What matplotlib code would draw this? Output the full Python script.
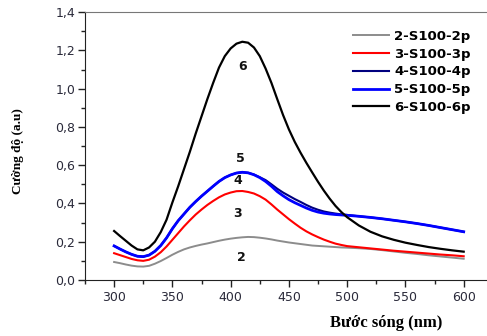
import matplotlib
matplotlib.use("Agg")
import matplotlib.pyplot as plt
from matplotlib.ticker import MultipleLocator, FuncFormatter

# wavelength (nm): 5 nm steps up to 500, then 10 nm steps
wavelength = list(range(300, 500, 5)) + list(range(500, 601, 10))

# absorbance
s2 = [0.094, 0.088, 0.081, 0.075, 0.071, 0.070, 0.074, 0.085, 0.099, 0.115,
      0.132, 0.147, 0.160, 0.170, 0.178, 0.185, 0.191, 0.198, 0.205, 0.211,
      0.216, 0.220, 0.223, 0.225, 0.224, 0.221, 0.217, 0.212, 0.206, 0.201,
      0.196, 0.192, 0.188, 0.184, 0.180, 0.178, 0.176, 0.174, 0.172, 0.170,
      0.169,
      0.166, 0.162, 0.156, 0.149, 0.142, 0.136, 0.129, 0.123, 0.117, 0.111]
s3 = [0.140, 0.130, 0.120, 0.110, 0.103, 0.100, 0.106, 0.122, 0.145, 0.175,
      0.210, 0.245, 0.280, 0.312, 0.342, 0.368, 0.392, 0.413, 0.432, 0.447,
      0.457, 0.464, 0.465, 0.460, 0.452, 0.438, 0.420, 0.395, 0.368, 0.343,
      0.318, 0.295, 0.273, 0.254, 0.238, 0.224, 0.211, 0.200, 0.190, 0.183,
      0.177,
      0.171, 0.165, 0.159, 0.153, 0.148, 0.143, 0.138, 0.133, 0.129, 0.124]
s4 = [0.178, 0.162, 0.147, 0.134, 0.124, 0.122, 0.130, 0.150, 0.180, 0.220,
      0.268, 0.310, 0.345, 0.380, 0.410, 0.438, 0.464, 0.490, 0.515, 0.535,
      0.549, 0.559, 0.563, 0.560, 0.551, 0.537, 0.522, 0.500, 0.477, 0.457,
      0.440, 0.423, 0.408, 0.392, 0.378, 0.367, 0.358, 0.352, 0.347, 0.343,
      0.340,
      0.333, 0.327, 0.320, 0.312, 0.304, 0.295, 0.285, 0.274, 0.263, 0.252]
s5 = [0.178, 0.162, 0.147, 0.134, 0.124, 0.122, 0.130, 0.150, 0.180, 0.220,
      0.268, 0.310, 0.345, 0.380, 0.410, 0.438, 0.464, 0.490, 0.515, 0.535,
      0.549, 0.559, 0.563, 0.560, 0.550, 0.535, 0.515, 0.490, 0.462, 0.440,
      0.420, 0.404, 0.390, 0.376, 0.364, 0.355, 0.349, 0.345, 0.342, 0.340,
      0.338,
      0.333, 0.327, 0.320, 0.312, 0.304, 0.295, 0.285, 0.274, 0.263, 0.252]
s6 = [0.256, 0.230, 0.205, 0.180, 0.160, 0.155, 0.170, 0.200, 0.250, 0.315,
      0.405, 0.490, 0.580, 0.670, 0.765, 0.855, 0.945, 1.030, 1.110, 1.170,
      1.210, 1.235, 1.245, 1.240, 1.215, 1.170, 1.105, 1.030, 0.945, 0.862,
      0.787, 0.722, 0.665, 0.612, 0.562, 0.513, 0.467, 0.425, 0.387, 0.355,
      0.328,
      0.285, 0.252, 0.228, 0.210, 0.195, 0.183, 0.172, 0.163, 0.155, 0.148]

series = [s2, s3, s4, s5, s6]
names = ["2-S100-2p", "3-S100-3p", "4-S100-4p", "5-S100-5p", "6-S100-6p"]
colors = ["#8c8c8c", "#ff0000", "#00007f", "#0000ff", "#000000"]
widths = [1.4, 1.5, 1.5, 2.0, 1.6]

# curve number labels next to the peaks
label_text = ["6", "5", "4", "3", "2"]
label_x = [410, 408, 406, 406, 409]
label_y = [1.115, 0.635, 0.52, 0.35, 0.115]

fig = plt.figure(figsize=(4.87, 3.36), dpi=100)
ax = fig.add_axes([0.1745, 0.1667, 0.8255, 0.7973])

for ys, name, c, lw in zip(series, names, colors, widths):
    ax.plot(wavelength, ys, color=c, lw=lw, label=name, solid_joinstyle="round")

for t, x, y in zip(label_text, label_x, label_y):
    ax.text(x, y, t, ha="center", va="center", fontsize=9, fontweight="bold", color="#111111")

ax.set_xlim(275, 620)
ax.set_ylim(0, 1.4)
ax.xaxis.set_major_locator(MultipleLocator(50))
ax.xaxis.set_minor_locator(MultipleLocator(25))
ax.yaxis.set_major_locator(MultipleLocator(0.2))
ax.yaxis.set_minor_locator(MultipleLocator(0.1))
ax.yaxis.set_major_formatter(FuncFormatter(lambda v, p: f"{v:.1f}".replace(".", ",")))

ax.tick_params(which="both", direction="out", top=False, right=False, colors="#222222",
               labelcolor="#2a2a3a", labelsize=9)
ax.tick_params(which="major", length=5, width=1)
ax.tick_params(which="minor", length=3, width=1)
ax.tick_params(axis="y", pad=2)
ax.tick_params(axis="x", pad=3)

ax.spines["right"].set_visible(False)
ax.spines["top"].set_color("#777777")
for s in ["left", "bottom"]:
    ax.spines[s].set_color("#222222")

leg = ax.legend(loc="upper left", bbox_to_anchor=(0.725, 0.911), bbox_transform=fig.transFigure,
                frameon=False, borderpad=0, borderaxespad=0, handlelength=2.7,
                handletextpad=0.4, labelspacing=0.36,
                prop={"family": "DejaVu Sans", "weight": "bold", "size": 9.5})

fig.text(0.793, 0.039, "Bước sóng (nm)", ha="center", va="center",
         family="Liberation Serif", fontweight="bold", fontsize=12)
fig.text(0.037, 0.55, "Cường độ (a.u)", ha="center", va="center", rotation=90,
         family="Liberation Serif", fontweight="bold", fontsize=9.5)

fig.savefig("out.png", dpi=100)
